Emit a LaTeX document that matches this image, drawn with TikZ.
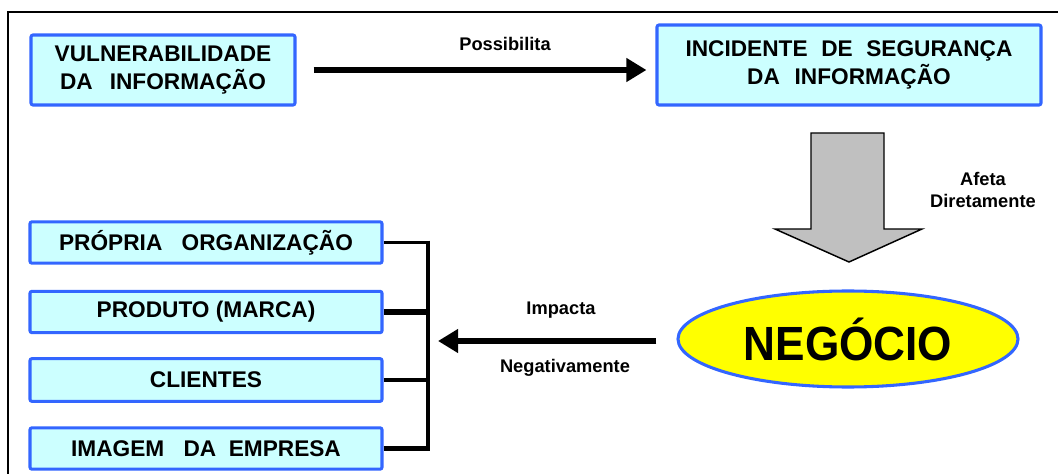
\documentclass[tikz,border=0pt]{standalone}
\usepackage{fontspec}
\setmainfont{Liberation Sans}
\usetikzlibrary{arrows.meta,shapes.geometric}
\definecolor{boxfill}{HTML}{CCFFFF}
\definecolor{boxline}{HTML}{3366FF}
\definecolor{blockgray}{HTML}{C0C0C0}
\definecolor{hiyellow}{HTML}{FFFF00}
\begin{document}
\begin{tikzpicture}[x=0.75pt,y=-0.75pt,
  infobox/.style={draw=boxline,fill=boxfill,line width=2.3pt,rounded corners=1.5pt,
    inner sep=0pt,align=center,font=\fontsize{17}{20.5}\selectfont\bfseries},
  lbl/.style={font=\fontsize{13.7}{16}\selectfont\bfseries,align=center,inner sep=0pt},
  bigarrow/.style={line width=4.5pt,-{Triangle[length=15pt,width=17pt]}},
  thinlink/.style={line width=2.6pt},
  thicklink/.style={line width=3.9pt}]
  \useasboundingbox (0,0) rectangle (1058,474);
  % outer frame (top and left edges)
  \draw[line width=1.2pt] (1060,12) -- (8,12) -- (8,476);

  % top row
  \node[infobox,minimum width=198pt,minimum height=52.5pt] (vuln) at (163,70)
    {VULNERABILIDADE\\DA\hspace{0.75em}INFORMAÇÃO};
  \node[infobox,minimum width=288pt,minimum height=60pt] (inc) at (849,65)
    {INCIDENTE\hspace{0.6em}DE\hspace{0.6em}SEGURANÇA\\DA\hspace{0.65em}INFORMAÇÃO};
  \draw[bigarrow,shorten <=12.75pt,shorten >=6.75pt] (vuln.east) -- (vuln.east -| inc.west);
  \node[lbl] (poss) at (505,44) {Possibilita};

  % block arrow down to the business
  \draw[fill=blockgray,line width=1.1pt]
    (811,133) -- (884,133) -- (884,229) -- (922,229) -- (849,262)
    -- (775,229) -- (811,229) -- cycle;
  \node[lbl] (afeta) at (983,190) {Afeta\\Diretamente};

  % business ellipse
  \node[ellipse,draw=boxline,fill=hiyellow,line width=2.3pt,inner sep=0pt,
    minimum width=255pt,minimum height=72pt] (neg) at (848,339)
    {\scalebox{0.92}[1]{\fontsize{36}{40}\selectfont\bfseries NEGÓCIO}};

  % affected items
  \node[infobox,minimum width=264pt,minimum height=31pt] (org) at (206,242.5)
    {PRÓPRIA\hspace{0.85em}ORGANIZAÇÃO};
  \node[infobox,minimum width=264pt,minimum height=31pt] (prod) at (206,312)
    {PRODUTO (MARCA)};
  \node[infobox,minimum width=264pt,minimum height=32pt] (cli) at (206,380)
    {CLIENTES};
  \node[infobox,minimum width=264pt,minimum height=31pt] (img) at (206,448.5)
    {IMAGEM\hspace{0.85em}DA\hspace{0.55em}EMPRESA};

  % bracket joining the items
  \coordinate (bt) at (428,242);
  \coordinate (bb) at (428,449);
  \draw[thinlink] (org.east) -- (org.east -| bt);
  \draw[thicklink] (prod.east) -- (prod.east -| bt);
  \draw[thinlink] (cli.east) -- (cli.east -| bt);
  \draw[thicklink] (img.east) -- (img.east -| bt);
  \draw[line width=2.4pt] ([yshift=1pt]bt) -- ([yshift=-1.5pt]bb);

  % impact arrow back to the bracket
  \draw[bigarrow,shorten <=15pt,shorten >=7.5pt] ([yshift=-1.5pt]neg.west) -- ([yshift=-1.5pt]neg.west -| bt);
  \node[lbl] (imp) at (561,310) {Impacta};
  \node[lbl] (negat) at (565,368) {Negativamente};
\end{tikzpicture}
\end{document}
